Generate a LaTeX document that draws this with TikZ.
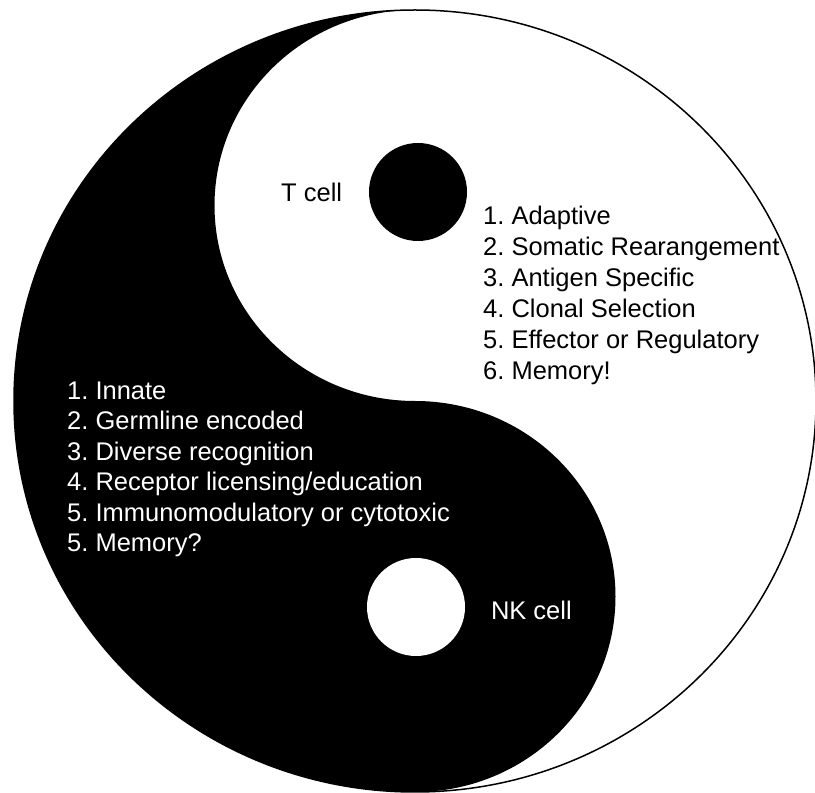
\documentclass[tikz,border=0pt]{standalone}
\usepackage{fontspec}
\setmainfont{Liberation Sans}
\frenchspacing
\begin{document}
\begin{tikzpicture}[x=1pt,y=1pt,
  lbl/.style={inner sep=0pt,anchor=base west,font=\fontsize{25.5}{30.5}\selectfont\frenchspacing},
  blacklbl/.style={lbl,text=black},
  whitelbl/.style={lbl,text=white}]
\useasboundingbox (0,0) rectangle (815,793);
% black half of the yin-yang
\fill[black] (415,783) arc[start angle=90,end angle=270,x radius=401,y radius=391]
  arc[start angle=-90,end angle=90,x radius=200.5,y radius=195.5]
  arc[start angle=270,end angle=90,x radius=200.5,y radius=195.5] -- cycle;
% outline
\draw[line width=1.5pt] (415,392) ellipse[x radius=401,y radius=391];
% dots
\node[circle,fill=black,minimum size=98pt,inner sep=0pt] (tdot) at (418,601) {};
\node[circle,fill=white,minimum size=98pt,inner sep=0pt] (nkdot) at (416,186) {};
% labels
\node[blacklbl] (tcell) at (281,591.3) {T cell};
\node[whitelbl] (nkcell) at (490.8,173) {NK cell};
\foreach \t [count=\i] in {1. Adaptive,2. Somatic Rearangement,3. Antigen Specific,4. Clonal Selection,5. Effector or Regulatory,6. Memory!}
  \node[blacklbl] (r\i) at (483,{568-30.9*(\i-1)}) {\t};
\foreach \t [count=\i] in {1. Innate,2. Germline encoded,3. Diverse recognition,4. Receptor licensing/education,5. Immunomodulatory or cytotoxic,5. Memory?}
  \node[whitelbl] (l\i) at (67,{393.5-30.5*(\i-1)}) {\t};
\end{tikzpicture}
\end{document}
